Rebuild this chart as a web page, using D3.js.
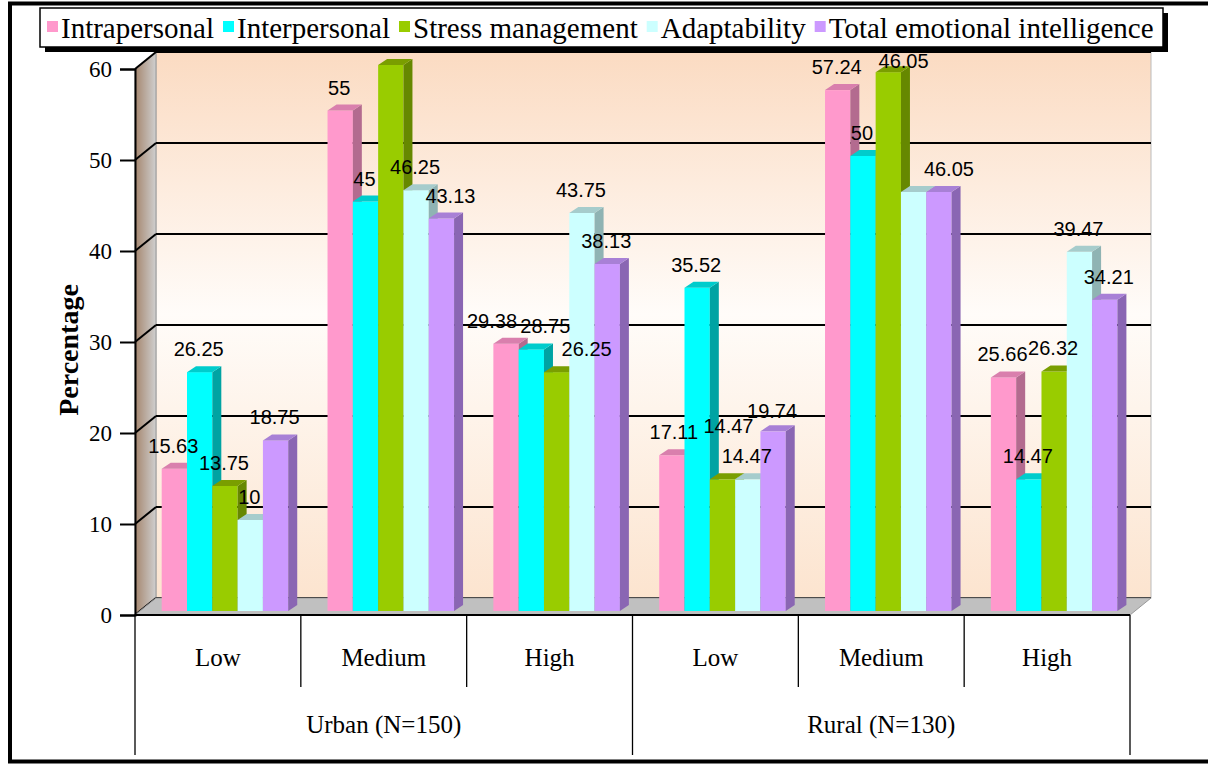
<!DOCTYPE html>
<html><head><meta charset="utf-8">
<script src="https://cdn.jsdelivr.net/npm/d3@7"></script>
<style>body{margin:0;background:#fff}svg{display:block}</style>
</head><body>
<svg id="chart" width="1208" height="765"></svg>
<script>
const groups = ["Urban (N=150)", "Rural (N=130)"];
const levels = ["Low", "Medium", "High"];
const seriesNames = ["Intrapersonal", "Interpersonal", "Stress management", "Adaptability", "Total emotional intelligence"];
const intrapersonal = [15.63, 55, 29.38, 17.11, 57.24, 25.66];
const interpersonal = [26.25, 45, 28.75, 35.52, 50, 14.47];
const stressManagement = [13.75, 60, 26.25, 14.47, 59.21, 26.32];
const adaptability = [10, 46.25, 43.75, 14.47, 46.05, 39.47];
const totalEI = [18.75, 43.13, 38.13, 19.74, 46.05, 34.21];
const yTicks = [0, 10, 20, 30, 40, 50, 60];

const seriesValues = [intrapersonal, interpersonal, stressManagement, adaptability, totalEI];
const colors = ["#FF99CC", "#00FFFF", "#99CC00", "#CCFFFF", "#CC99FF"];
const sideColors = ["#B36B8F", "#00A3A3", "#668800", "#8FB3B3", "#8A66B3"];
const topColors = ["#D97FAD", "#00CCCC", "#7A9E00", "#A6CCCC", "#A880D6"];

const svg = d3.select("#chart");
const defs = svg.append("defs");

const x0 = 135, x1 = 1130, yBase = 615, yTop = 69;
const wdx = 21, wdy = -17;
const y = d3.scaleLinear().domain([0, 60]).range([yBase, yTop]);
const cats = d3.range(6);
const xBand = d3.scaleBand().domain(cats).range([x0, x1]).padding(0);
const catLabels = cats.map(i => levels[i % 3]);
const serif = "'Liberation Serif','Times New Roman',serif";

// gradients
const gWall = defs.append("linearGradient").attr("id", "wall").attr("x1", 0).attr("y1", 0).attr("x2", 0).attr("y2", 1);
gWall.append("stop").attr("offset", "0%").attr("stop-color", "#FBDBC2");
gWall.append("stop").attr("offset", "48%").attr("stop-color", "#FFFCF9");
gWall.append("stop").attr("offset", "100%").attr("stop-color", "#FCE4CF");
const gSide = defs.append("linearGradient").attr("id", "side").attr("x1", 0).attr("y1", 0).attr("x2", 1).attr("y2", 0);
gSide.append("stop").attr("offset", "0%").attr("stop-color", "#A5866E");
gSide.append("stop").attr("offset", "100%").attr("stop-color", "#CFCFCF");

// frame
svg.append("rect").attr("x", 10).attr("y", 3.5).attr("width", 1215).attr("height", 758)
  .attr("fill", "#fff").attr("stroke", "#000").attr("stroke-width", 4);

// back wall
svg.append("rect").attr("x", x0 + wdx).attr("y", y(60) + wdy).attr("width", x1 - x0)
  .attr("height", y(0) - y(60)).attr("fill", "url(#wall)").attr("stroke", "#bbb").attr("stroke-width", 1);
// left wall
svg.append("polygon").attr("points", [[x0, y(60)], [x0 + wdx, y(60) + wdy], [x0 + wdx, y(0) + wdy], [x0, y(0)]].join(" "))
  .attr("fill", "url(#side)").attr("stroke", "#888").attr("stroke-width", 0.8);

// gridlines
yTicks.forEach(t => {
  svg.append("line").attr("x1", x0 + wdx).attr("x2", x1 + wdx).attr("y1", y(t) + wdy).attr("y2", y(t) + wdy)
    .attr("stroke", "#000").attr("stroke-width", 2);
  svg.append("line").attr("x1", x0).attr("x2", x0 + wdx).attr("y1", y(t)).attr("y2", y(t) + wdy)
    .attr("stroke", "#000").attr("stroke-width", 2);
});

// floor
svg.append("polygon").attr("points", [[x0, y(0)], [x1, y(0)], [x1 + wdx, y(0) + wdy], [x0 + wdx, y(0) + wdy]].join(" "))
  .attr("fill", "#C0C0C0").attr("stroke", "#999").attr("stroke-width", 1);

// y axis
const yAxis = d3.axisLeft(y).tickValues(yTicks).tickSize(15).tickPadding(8).tickFormat(d3.format("d"));
const yg = svg.append("g").attr("transform", `translate(${x0},0)`).call(yAxis);
yg.select(".domain").attr("stroke", "#000").attr("stroke-width", 2);
yg.selectAll(".tick line").attr("stroke", "#000").attr("stroke-width", 2);
yg.selectAll(".tick text").attr("font-family", serif).attr("font-size", 23).attr("fill", "#000");

svg.append("text").attr("transform", "translate(68,350) rotate(-90)").attr("text-anchor", "middle")
  .attr("dominant-baseline", "central")
  .attr("font-family", serif).attr("font-weight", "bold").attr("font-size", 28)
  .text("Percentage");

// x axis line and dividers
svg.append("line").attr("x1", x0).attr("x2", x1).attr("y1", y(0)).attr("y2", y(0)).attr("stroke", "#000").attr("stroke-width", 2);
d3.range(7).forEach(i => {
  const xx = i < 6 ? xBand(i) : x1;
  const outer = (i % 3 === 0);
  svg.append("line").attr("x1", xx).attr("x2", xx).attr("y1", y(0)).attr("y2", outer ? 755 : 687)
    .attr("stroke", "#000").attr("stroke-width", 1.3);
});
svg.selectAll("text.cat").data(cats).enter().append("text")
  .attr("x", d => xBand(d) + xBand.bandwidth() / 2).attr("y", 657)
  .attr("text-anchor", "middle").attr("dominant-baseline", "central")
  .attr("font-family", serif).attr("font-size", 25).text(d => catLabels[d]);
groups.forEach((g, gi) => {
  svg.append("text").attr("x", (xBand(gi * 3) + (gi === 1 ? x1 : xBand(3))) / 2).attr("y", 724)
    .attr("text-anchor", "middle").attr("dominant-baseline", "central")
    .attr("font-family", serif).attr("font-size", 25).text(g);
});

// bars
const barW = xBand.bandwidth() * 0.1526, barOff = xBand.bandwidth() * 0.161;
const bdx = 9, bdy = -6, lift = 4;
const xBar = (c, s) => xBand(c) + barOff + s * barW;
cats.forEach(c => {
  seriesValues.forEach((vals, s) => {
    const v = vals[c];
    const bx0 = xBar(c, s), bx1 = bx0 + barW;
    const top = y(v) - lift, base = y(0) - lift;
    const g = svg.append("g");
    g.append("rect").attr("x", bx0).attr("y", top).attr("width", barW).attr("height", base - top).attr("fill", colors[s]);
    g.append("polygon").attr("points", [[bx1, top], [bx1 + bdx, top + bdy], [bx1 + bdx, base + bdy], [bx1, base]].join(" ")).attr("fill", sideColors[s]);
    g.append("polygon").attr("points", [[bx0, top], [bx0 + bdx, top + bdy], [bx1 + bdx, top + bdy], [bx1, top]].join(" ")).attr("fill", topColors[s]);
  });
});

// data labels (labels that sit under the legend are hidden, as in the reference)
const nudge = {
  "4-1": [10, 0], "0-2": [-13, 0], "1-2": [15, 0], "2-2": [31, 0],
  "0-3": [3, 0], "2-3": [7, -30], "4-3": [0, 3],
  "3-4": [-9, -108], "4-4": [11, 0], "4-5": [5, 0]
};
const hiddenLabels = new Set(["2-1", "2-4"]);
cats.forEach(c => {
  seriesValues.forEach((vals, s) => {
    if (hiddenLabels.has(`${s}-${c}`)) return;
    const v = vals[c];
    const n = nudge[`${s}-${c}`] || [0, 0];
    svg.append("text").attr("x", xBar(c, s) + barW / 2 - 1 + n[0]).attr("y", y(v) - lift - 23 + n[1])
      .attr("text-anchor", "middle").attr("dominant-baseline", "central")
      .attr("font-family", "'Liberation Sans',Arial,sans-serif").attr("font-size", 20).attr("fill", "#000")
      .text(String(v));
  });
});

// legend
const lg = svg.append("g");
lg.append("rect").attr("x", 45).attr("y", 13).attr("width", 1123).attr("height", 39).attr("fill", "#000");
lg.append("rect").attr("x", 40).attr("y", 8).attr("width", 1123).attr("height", 39).attr("fill", "#fff").attr("stroke", "#000").attr("stroke-width", 1.5);
let lx = 47;
seriesNames.forEach((name, s) => {
  lg.append("rect").attr("x", lx).attr("y", 21).attr("width", 11).attr("height", 11).attr("fill", colors[s]);
  const t = lg.append("text").attr("x", lx + 14).attr("y", 28).attr("dominant-baseline", "central")
    .attr("font-family", serif).attr("font-size", 29).text(name);
  lx += 14 + t.node().getComputedTextLength() + 9;
});
</script>
</body></html>
